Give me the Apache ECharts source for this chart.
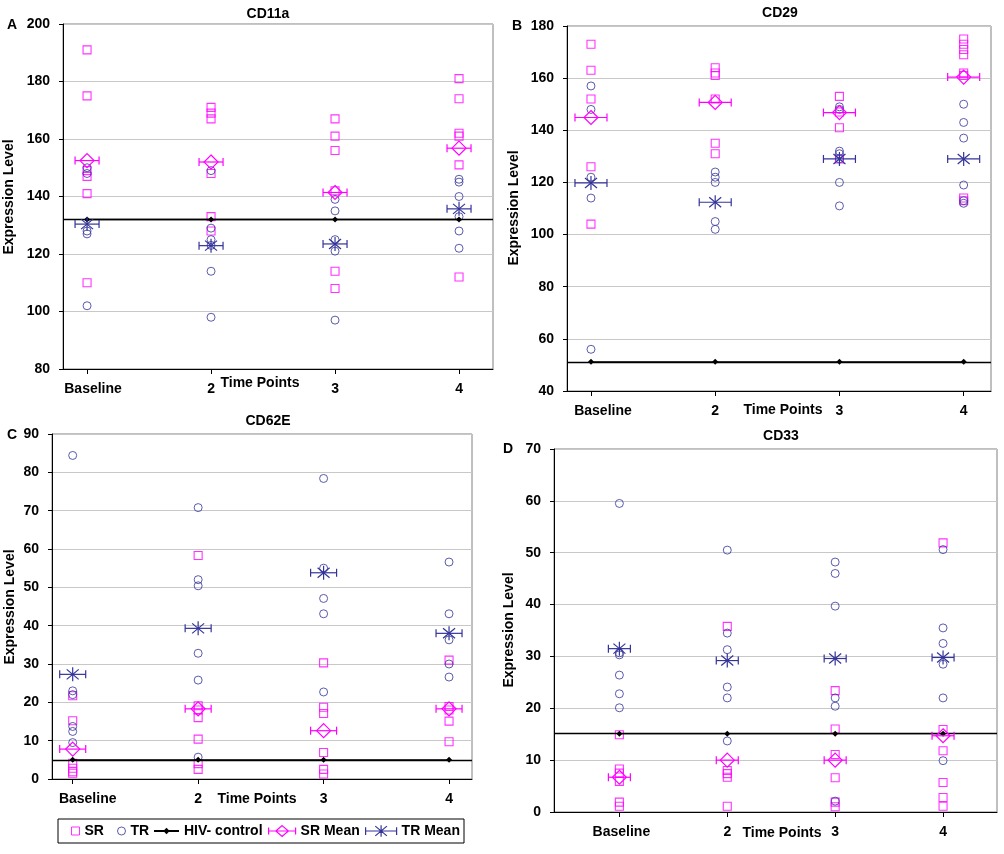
<!DOCTYPE html>
<html>
<head>
<meta charset="utf-8">
<script src="https://cdn.jsdelivr.net/npm/echarts@6/dist/echarts.min.js"></script>
<style>html,body{margin:0;padding:0;background:#fff}#c{width:1004px;height:854px}</style>
</head>
<body>
<div id="c"></div>
<script>
// ---------- data ----------
const categories = ['Baseline', '2', '3', '4'];
const xPositions = [1, 2, 3, 4];
const seriesNames = ['SR', 'TR', 'HIV- control', 'SR Mean', 'TR Mean'];
const panelTitles = ['CD11a', 'CD29', 'CD62E', 'CD33'];
const panelLetters = ['A', 'B', 'C', 'D'];

// Panel A: CD11a
const a_SR = [[191, 175, 149, 147, 141, 110], [171, 169, 167, 148, 133, 128], [167, 161, 156, 142, 114, 108], [181, 174, 162, 161, 151, 112]];
const a_TR = [[150, 148, 128, 127, 102], [149, 129, 125, 123, 114, 98], [139, 135, 125, 121, 97], [146, 145, 140, 133, 128, 122]];
const a_SRmean = [152.5, 152.0, 141.4, 156.8];
const a_TRmean = [130.4, 122.9, 123.5, 135.7];
const a_control = [132, 132, 132, 132];

// Panel B: CD29
const b_SR = [[173, 163, 152, 126, 104], [164, 162, 161, 152, 135, 131], [153, 147, 141, 129], [175, 173, 171, 169, 162, 161, 114, 113]];
const b_TR = [[157, 148, 122, 114, 56], [124, 122, 120, 105, 102], [149, 148, 132, 131, 129, 120, 111], [150, 143, 137, 119, 113, 112]];
const b_SRmean = [144.9, 150.7, 146.8, 160.4];
const b_TRmean = [119.8, 112.4, 129.0, 129.0];
const b_control = [51.2, 51.2, 51.2, 51.2];

// Panel C: CD62E
const c_SR = [[21.7, 15.2, 4.1, 2.8, 1.9, 1.5], [58.3, 19.1, 18.0, 16.0, 10.4, 4.0, 2.5], [30.3, 18.7, 17.1, 6.9, 2.5, 1.3], [31.0, 18.9, 18.0, 15.1, 9.7]];
const c_TR = [[84.4, 23.0, 22.0, 13.7, 12.4, 9.5], [70.8, 52.0, 50.4, 32.8, 25.8, 5.7], [78.4, 55.0, 47.1, 43.1, 22.7], [56.6, 43.1, 36.3, 30.0, 26.6]];
const c_SRmean = [7.8, 18.3, 12.6, 18.3];
const c_TRmean = [27.3, 39.3, 53.8, 38.0];
const c_control = [5.0, 5.0, 5.0, 5.0];

// Panel D: CD33
const d_SR = [[14.9, 8.3, 7.5, 5.9, 1.9, 1.1], [35.8, 8.0, 7.4, 6.7, 1.1], [23.4, 16.0, 11.1, 6.6, 1.9, 1.0], [51.9, 15.9, 11.8, 5.7, 2.8, 1.1]];
const d_TR = [[59.5, 30.7, 30.3, 26.4, 22.8, 20.1], [50.5, 34.5, 31.3, 24.1, 22.0, 13.7], [48.2, 46.0, 39.7, 22.0, 20.4, 2.1], [50.6, 35.5, 32.5, 28.5, 22.0, 9.9]];
const d_SRmean = [6.7, 10.0, 10.0, 14.7];
const d_TRmean = [31.5, 29.2, 29.6, 29.8];
const d_control = [15.1, 15.1, 15.1, 15.1];

// y-axis scales (tick labels)
const a_yAxis = { min: 80, max: 200, step: 20 };
const b_yAxis = { min: 40, max: 180, step: 20 };
const c_yAxis = { min: 0, max: 90, step: 10 };
const d_yAxis = { min: 0, max: 70, step: 10 };

// ---------- layout / style ----------
const SR_COLOR = '#FF00FF';
const TR_COLOR = '#333399';
const FAMILY = '"Liberation Sans", Arial, sans-serif';
const FONT = 'bold 14px ' + FAMILY;

const panels = [
  { grid: { left: 63, top: 24, width: 430, height: 345 }, xMin: 0.806, xMax: 4.274, y: a_yAxis, half: 12, baseOff: 6,
    titlePos: [268, 14], letterPos: [12, 25], namePos: [9, 197], timePos: [260, 383],
    SR: a_SR, TR: a_TR, SRm: a_SRmean, TRm: a_TRmean, ctrl: a_control },
  { grid: { left: 567, top: 26, width: 424, height: 365 }, xMin: 0.807, xMax: 4.22, y: b_yAxis, half: 16, baseOff: 12,
    titlePos: [780, 13], letterPos: [517, 26], namePos: [514, 208], timePos: [783, 410],
    SR: b_SR, TR: b_TR, SRm: b_SRmean, TRm: b_TRmean, ctrl: b_control },
  { grid: { left: 52, top: 434, width: 420, height: 345 }, xMin: 0.835, xMax: 4.183, y: c_yAxis, half: 13, baseOff: 15,
    titlePos: [268, 421], letterPos: [12, 435], namePos: [10, 607], timePos: [257, 799],
    SR: c_SR, TR: c_TR, SRm: c_SRmean, TRm: c_TRmean, ctrl: c_control },
  { grid: { left: 554, top: 449, width: 443, height: 363 }, xMin: 0.394, xMax: 4.50, y: d_yAxis, half: 11, baseOff: 2,
    titlePos: [781, 436], letterPos: [508, 449], namePos: [509, 630], timePos: [782, 833],
    SR: d_SR, TR: d_TR, SRm: d_SRmean, TRm: d_TRmean, ctrl: d_control }
];

function meanRender(kind, half, color) {
  return function (params, api) {
    const p = api.coord([api.value(0), api.value(1)]);
    const x = p[0], y = p[1];
    const st = { stroke: color, lineWidth: 1.2, fill: 'none' };
    const ch = [
      { type: 'line', shape: { x1: x - half, y1: y, x2: x + half, y2: y }, style: st },
      { type: 'line', shape: { x1: x - half, y1: y - 4, x2: x - half, y2: y + 4 }, style: st },
      { type: 'line', shape: { x1: x + half, y1: y - 4, x2: x + half, y2: y + 4 }, style: st }
    ];
    if (kind === 'diamond') {
      ch.push({ type: 'polygon', shape: { points: [[x, y - 7], [x + 7, y], [x, y + 7], [x - 7, y]] }, style: st });
    } else {
      ch.push({ type: 'line', shape: { x1: x, y1: y - 7, x2: x, y2: y + 7 }, style: st });
      ch.push({ type: 'line', shape: { x1: x - 6, y1: y - 5, x2: x + 6, y2: y + 5 }, style: st });
      ch.push({ type: 'line', shape: { x1: x - 6, y1: y + 5, x2: x + 6, y2: y - 5 }, style: st });
    }
    return { type: 'group', children: ch };
  };
}

const grids = [], xAxes = [], yAxes = [], series = [], graphics = [];

panels.forEach((pn, i) => {
  grids.push(Object.assign({ show: true, borderColor: '#808080', borderWidth: 1, backgroundColor: 'transparent', containLabel: false }, pn.grid));
  xAxes.push({
    type: 'value', gridIndex: i, min: pn.xMin, max: pn.xMax,
    axisLine: { show: true, onZero: false, lineStyle: { color: '#000', width: 1 } },
    axisTick: { show: true, customValues: xPositions, length: 5, lineStyle: { color: '#000' } },
    splitLine: { show: false },
    axisLabel: {
      customValues: xPositions, margin: 13, color: '#000', fontWeight: 'bold', fontSize: 14, fontFamily: FAMILY,
      formatter: v => { const k = Math.round(v) - 1; return k === 0 ? '{b|' + categories[0] + '}' : categories[k]; },
      rich: { b: { color: '#000', fontWeight: 'bold', fontSize: 14, fontFamily: FAMILY, padding: [0, 0, 0, pn.baseOff * 2] } }
    }
  });
  yAxes.push({
    type: 'value', gridIndex: i, min: pn.y.min, max: pn.y.max, interval: pn.y.step,
    axisLine: { show: true, lineStyle: { color: '#000', width: 1 } },
    axisTick: { show: true, length: 4, lineStyle: { color: '#000' } },
    splitLine: { show: true, lineStyle: { color: '#C8C8C8', width: 1 } },
    axisLabel: { margin: 13, color: '#000', fontWeight: 'bold', fontSize: 14, fontFamily: FAMILY }
  });
  const pts = arr => arr.flatMap((vals, k) => vals.map(v => [xPositions[k], v]));
  series.push({
    name: 'SR', type: 'scatter', xAxisIndex: i, yAxisIndex: i, symbol: 'rect', symbolSize: 8,
    itemStyle: { color: 'transparent', borderColor: SR_COLOR, borderWidth: 1.1 }, data: pts(pn.SR), z: 3
  });
  series.push({
    name: 'TR', type: 'scatter', xAxisIndex: i, yAxisIndex: i, symbol: 'circle', symbolSize: 8,
    itemStyle: { color: 'transparent', borderColor: TR_COLOR, borderWidth: 1 }, data: pts(pn.TR), z: 3
  });
  series.push({
    name: 'HIV- control', type: 'line', xAxisIndex: i, yAxisIndex: i, symbol: 'diamond', symbolSize: 6,
    itemStyle: { color: '#000' }, lineStyle: { color: '#000', width: 1.3 },
    data: pn.ctrl.map((v, k) => [xPositions[k], v]), z: 4,
    markLine: { silent: true, symbol: 'none', label: { show: false }, lineStyle: { color: '#000', width: 1.3, type: 'solid' }, data: [{ yAxis: pn.ctrl[0] }] }
  });
  series.push({
    name: 'SR Mean', type: 'custom', coordinateSystem: 'cartesian2d', xAxisIndex: i, yAxisIndex: i,
    renderItem: meanRender('diamond', pn.half, SR_COLOR), encode: { x: 0, y: 1 },
    itemStyle: { color: SR_COLOR }, data: pn.SRm.map((v, k) => [xPositions[k], v]), z: 5
  });
  series.push({
    name: 'TR Mean', type: 'custom', coordinateSystem: 'cartesian2d', xAxisIndex: i, yAxisIndex: i,
    renderItem: meanRender('star', pn.half, TR_COLOR), encode: { x: 0, y: 1 },
    itemStyle: { color: TR_COLOR }, data: pn.TRm.map((v, k) => [xPositions[k], v]), z: 5
  });
  const txt = (pos, text, rot) => ({
    type: 'text', x: pos[0], y: pos[1], rotation: rot || 0, silent: true,
    style: { text: text, font: FONT, fill: '#000', align: 'center', verticalAlign: 'middle' }
  });
  graphics.push(txt(pn.titlePos, panelTitles[i]));
  graphics.push(txt(pn.letterPos, panelLetters[i]));
  graphics.push(txt(pn.namePos, 'Expression Level', Math.PI / 2));
  graphics.push(txt(pn.timePos, 'Time Points'));
});

// legend box
graphics.push({ type: 'rect', silent: true, shape: { x: 58, y: 819, width: 406, height: 24 }, style: { fill: '#fff', stroke: '#000', lineWidth: 1 }, z: -1 });

const legTop = 824;
const legText = { color: '#000', fontWeight: 'bold', fontSize: 14, fontFamily: FAMILY };
const legBase = { top: legTop, padding: 0, selectedMode: false, textStyle: legText, z: 10 };
const legends = [
  Object.assign({}, legBase, { left: 71, itemWidth: 8, itemHeight: 8,
    data: [{ name: seriesNames[0], icon: 'rect', itemStyle: { color: 'transparent', borderColor: SR_COLOR, borderWidth: 1 } }] }),
  Object.assign({}, legBase, { left: 117, itemWidth: 8, itemHeight: 8,
    data: [{ name: seriesNames[1], icon: 'circle', itemStyle: { color: 'transparent', borderColor: TR_COLOR, borderWidth: 1 } }] }),
  Object.assign({}, legBase, { left: 153, itemWidth: 25, itemHeight: 8, data: [seriesNames[2]] }),
  Object.assign({}, legBase, { left: 268, itemWidth: 27, itemHeight: 12,
    data: [{ name: seriesNames[3], icon: 'path://M0,6L30,6M0,2L0,10M30,2L30,10M15,0L22,6L15,12L8,6Z',
      itemStyle: { color: 'transparent', borderColor: SR_COLOR, borderWidth: 1.2 } }] }),
  Object.assign({}, legBase, { left: 365, itemWidth: 31, itemHeight: 12,
    data: [{ name: seriesNames[4], icon: 'path://M0,6L32,6M0,2L0,10M32,2L32,10M16,0L16,12M10,1L22,11M10,11L22,1',
      itemStyle: { color: 'transparent', borderColor: TR_COLOR, borderWidth: 1.2 } }] })
];

const chart = echarts.init(document.getElementById('c'), null, { renderer: 'canvas' });
chart.setOption({
  animation: false,
  backgroundColor: '#fff',
  grid: grids, xAxis: xAxes, yAxis: yAxes, series: series,
  legend: legends,
  graphic: graphics
});
</script>
</body>
</html>
